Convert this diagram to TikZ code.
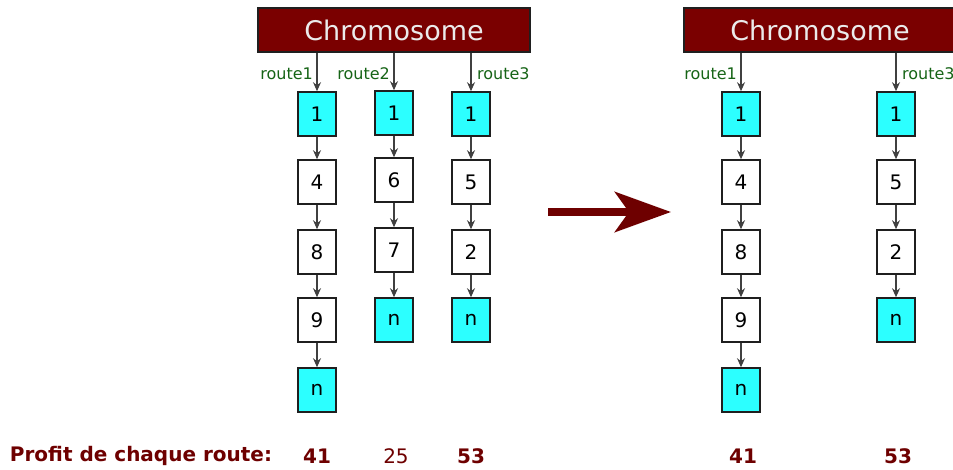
\documentclass[tikz,border=0pt]{standalone}
\usepackage{fontspec}
\setmainfont{DejaVu Sans}
\usetikzlibrary{arrows.meta}
\definecolor{chromred}{RGB}{122,0,0}
\definecolor{profitred}{RGB}{110,0,0}
\definecolor{routegreen}{RGB}{22,100,22}
\definecolor{genecyan}{RGB}{44,255,255}
\tikzset{
  gene/.style={draw=black!88, line width=1.6pt, fill=white, minimum width=38pt,
    minimum height=44pt, inner sep=0pt, font=\fontsize{20}{20}\selectfont},
  depot/.style={gene, fill=genecyan},
  chrom/.style={draw=black!88, line width=2pt, fill=chromred, text=white!92!black,
    minimum width=272pt, minimum height=44pt, inner sep=0pt,
    font=\fontsize{27}{27}\selectfont},
  lbl/.style={text=routegreen, inner sep=0pt, font=\fontsize{16}{16}\selectfont},
  profit/.style={text=profitred, inner sep=0pt, font=\fontsize{20}{20}\selectfont},
  bold profit/.style={profit, font=\bfseries\fontsize{20}{20}\selectfont},
  link/.style={draw=black!75, line width=1.2pt, -{Stealth[length=9pt,width=8pt]}}
}
\begin{document}
\begin{tikzpicture}[x=1pt,y=-1pt]
      \useasboundingbox (0,0) rectangle (953,469);
      % before: three routes
      \draw
        (394,30) node[chrom] (cA){Chromosome}
        (317,114) node[depot] (a1){1}
        (317,182) node[gene] (a4){4}
        (317,252) node[gene] (a8){8}
        (317,320) node[gene] (a9){9}
        (317,390) node[depot] (an){n}
        (394,113) node[depot] (b1){1}
        (394,180) node[gene] (b6){6}
        (394,250) node[gene] (b7){7}
        (394,320) node[depot] (bn){n}
        (471,114) node[depot] (c1){1}
        (471,182) node[gene] (c5){5}
        (471,252) node[gene] (c2){2}
        (471,320) node[depot] (cn){n};
      \node[lbl, anchor=east] (la) at (313,74) {route1};
      \node[lbl, anchor=east] (lb) at (390,74) {route2};
      \node[lbl, anchor=west] (lc) at (477,74) {route3};
      \begin{scope}[link]
        \draw (cA.south -| a1) to (a1);
        \draw (cA.south -| b1) to (b1);
        \draw (cA.south -| c1) to (c1);
        \draw (a1) to (a4);
        \draw (a4) to (a8);
        \draw (a8) to (a9);
        \draw (a9) to (an);
        \draw (b1) to (b6);
        \draw (b6) to (b7);
        \draw (b7) to (bn);
        \draw (c1) to (c5);
        \draw (c5) to (c2);
        \draw (c2) to (cn);
      \end{scope}
      % after: route2 dropped
      \draw
        (820,30) node[chrom] (cB){Chromosome}
        (741,114) node[depot] (d1){1}
        (741,182) node[gene] (d4){4}
        (741,252) node[gene] (d8){8}
        (741,320) node[gene] (d9){9}
        (741,390) node[depot] (dn){n}
        (896,114) node[depot] (e1){1}
        (896,182) node[gene] (e5){5}
        (896,252) node[gene] (e2){2}
        (896,320) node[depot] (en){n};
      \node[lbl, anchor=east] (ld) at (737,74) {route1};
      \node[lbl, anchor=west] (le) at (902,74) {route3};
      \begin{scope}[link]
        \draw (cB.south -| d1) to (d1);
        \draw (cB.south -| e1) to (e1);
        \draw (d1) to (d4);
        \draw (d4) to (d8);
        \draw (d8) to (d9);
        \draw (d9) to (dn);
        \draw (e1) to (e5);
        \draw (e5) to (e2);
        \draw (e2) to (en);
      \end{scope}
      % big arrow between the two
      \coordinate (from) at (548,212);
      \coordinate (to) at (671,212);
      \draw[profitred, line width=8pt, -{Stealth[length=56pt,width=40pt,inset=14pt]}]
        (from) -- (to);
      % profits
      \node[bold profit] (ptitle) at (141,456) {Profit de chaque route:};
      \node[bold profit] (pa) at (317,456) {41};
      \node[profit] (pb) at (396,456) {25};
      \node[bold profit] (pc) at (471,456) {53};
      \node[bold profit] (pd) at (743,456) {41};
      \node[bold profit] (pe) at (898,456) {53};
\end{tikzpicture}
\end{document}
